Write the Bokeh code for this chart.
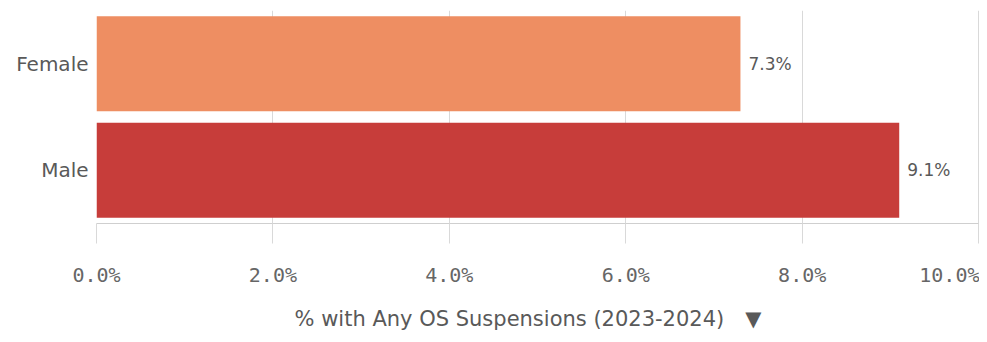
from bokeh.plotting import figure
from bokeh.models import FactorRange, Range1d, FixedTicker, PrintfTickFormatter, ColumnDataSource
from bokeh.core.properties import value
from bokeh.embed import file_html
from bokeh.resources import INLINE

categories = ["Male", "Female"]
values = [9.1, 7.3]
colors = ["#C73D3A", "#EE8E62"]
x_ticks = [0, 2, 4, 6, 8, 10]
axis_title = "% with Any OS Suspensions (2023-2024)"

labels = [f"{v:.1f}%" for v in values]
src = ColumnDataSource(dict(cat=categories, val=values, color=colors, label=labels))

p = figure(width=979, height=334, output_backend="svg", toolbar_location=None,
           y_range=FactorRange(factors=categories, range_padding=0),
           x_range=Range1d(0, 10.01),
           min_border_left=96, min_border_right=0, min_border_top=10, min_border_bottom=111)
p.outline_line_color = None
p.background_fill_color = "white"

p.hbar(y="cat", left=0, right="val", height=0.89, color="color", line_color=None, source=src)
p.text(x="val", y="cat", text="label", source=src, x_offset=8,
       text_align="left", text_baseline="middle",
       text_font=value("DejaVu Sans"), text_font_size="17px", text_color="#595959")

# x axis
xa = p.xaxis[0]
xa.ticker = FixedTicker(ticks=x_ticks)
xa.formatter = PrintfTickFormatter(format="%.1f%%")
xa.axis_line_color = "#CFCFCF"
xa.major_tick_line_color = "#D9D9D9"
xa.major_tick_out = 20
xa.major_tick_in = 0
xa.minor_tick_line_color = None
xa.major_label_standoff = 19
xa.major_label_text_font = "DejaVu Sans Mono"
xa.major_label_text_font_size = "20px"
xa.major_label_text_color = "#666666"
xa.axis_label = axis_title + "\u2002\u2002\u25BC" + "\u00a0" * 3
xa.axis_label_text_font = "DejaVu Sans"
xa.axis_label_text_font_size = "21px"
xa.axis_label_text_font_style = "normal"
xa.axis_label_text_color = "#595959"
xa.axis_label_standoff = 17

# y axis
ya = p.yaxis[0]
ya.axis_line_color = None
ya.major_tick_line_color = None
ya.minor_tick_line_color = None
ya.major_label_standoff = 2
ya.major_label_text_font = "DejaVu Sans"
ya.major_label_text_font_size = "20px"
ya.major_label_text_color = "#595959"

p.xgrid.grid_line_color = "#D9D9D9"
p.xgrid.ticker = FixedTicker(ticks=x_ticks)
p.ygrid.grid_line_color = None

open("out.html", "w").write(file_html(p, INLINE))
